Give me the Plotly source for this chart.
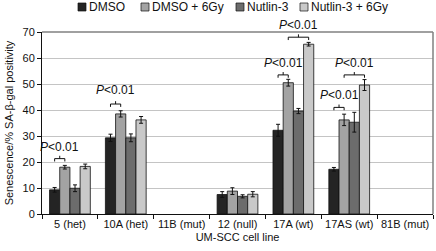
import plotly.graph_objects as go

categories = ["5 (het)", "10A (het)", "11B (mut)", "12 (null)", "17A (wt)", "17AS (wt)", "81B (mut)"]
series_names = ["DMSO", "DMSO + 6Gy", "Nutlin-3", "Nutlin-3 + 6Gy"]
dmso = [9.3, 29.3, 0, 7.5, 32.2, 17.2, 0]
dmso_6gy = [18.0, 38.5, 0, 8.8, 50.5, 36.2, 0]
nutlin = [9.9, 29.3, 0, 6.8, 39.6, 35.3, 0]
nutlin_6gy = [18.3, 36.2, 0, 7.6, 65.3, 49.6, 0]
err_dmso = [0.9, 1.4, 0, 1.1, 2.3, 0.7, 0]
err_dmso_6gy = [0.7, 1.2, 0, 1.3, 1.3, 2.2, 0]
err_nutlin = [1.3, 1.5, 0, 0.6, 1.0, 3.8, 0]
err_nutlin_6gy = [0.9, 1.3, 0, 1.0, 0.7, 2.1, 0]
colors = ["#242424", "#a3a3a3", "#6c6c6c", "#c9c9c9"]

# significance brackets: (group index, from bar, to bar, bracket y, text y)
brackets = [
    (0, 0, 1, 21.3, 25.8),
    (1, 0, 1, 42.3, 47.6),
    (4, 0, 1, 53.5, 58.0),
    (4, 1, 3, 68.0, 72.6),
    (5, 0, 1, 41.0, 45.8),
    (5, 1, 3, 53.5, 58.0),
]
p_label = "<i>P</i>&lt;0.01"

values = [dmso, dmso_6gy, nutlin, nutlin_6gy]
errors = [err_dmso, err_dmso_6gy, err_nutlin, err_nutlin_6gy]

YMAX = 70
BARGAP = 0.27
W = (1 - BARGAP) / 4

fig = go.Figure()
for name, v, e, c in zip(series_names, values, errors, colors):
    # cell lines with no measurement (value 0) draw no bar
    yv = [vv if vv > 0 else None for vv in v]
    fig.add_trace(go.Bar(
        name=name, x=categories, y=yv,
        marker=dict(color=c, line=dict(color="#111111", width=0.8)),
        error_y=dict(type="data", array=e, color="#111111", thickness=1, width=2),
        showlegend=False,
    ))

shapes = []
annotations = []
for g, b0, b1, yb, yt in brackets:
    x0 = g + (b0 - 1.5) * W
    x1 = g + (b1 - 1.5) * W
    xm = (x0 + x1) / 2
    d = 1.1
    path = (f"M {x0},{yb-d} L {x0},{yb} L {x1},{yb} L {x1},{yb-d} "
            f"M {xm},{yb} L {xm},{yb+d}")
    shapes.append(dict(type="path", path=path, xref="x", yref="y",
                       line=dict(color="#111111", width=1)))
    annotations.append(dict(x=xm, y=yt / YMAX, xref="x", yref="paper", text=p_label,
                            xanchor="center", yanchor="middle",
                            showarrow=False, font=dict(size=12, color="#111111")))

# plot frame (top and right)
shapes.append(dict(type="line", xref="paper", yref="paper", x0=0, x1=1, y0=1, y1=1,
                   line=dict(color="#808080", width=1.5)))
shapes.append(dict(type="line", xref="paper", yref="paper", x0=1, x1=1, y0=0, y1=1,
                   line=dict(color="#808080", width=1.5)))

# manual legend
leg_px = [82, 145, 240, 304]
PW = 391.0
for name, c, px in zip(series_names, colors, leg_px):
    xp = (px - 42) / PW
    shapes.append(dict(type="rect", xref="paper", yref="paper", xsizemode="pixel", ysizemode="pixel",
                       xanchor=xp, yanchor=(214 - 7) / 182.0, x0=-4, x1=4, y0=-4, y1=4,
                       fillcolor=c, line=dict(color="#111111", width=0.7)))
    annotations.append(dict(x=xp, y=(214 - 7) / 182.0, xref="paper", yref="paper", xshift=5,
                            text=name, showarrow=False, xanchor="left", yanchor="middle",
                            font=dict(size=12, color="#111111")))

fig.update_layout(
    width=436, height=251,
    margin=dict(l=42, r=3, t=32, b=37),
    paper_bgcolor="white", plot_bgcolor="white",
    barmode="group", bargap=BARGAP, bargroupgap=0,
    hovermode=False,
    font=dict(family="Liberation Sans, Arial, sans-serif", size=11, color="#111111"),
    shapes=shapes, annotations=annotations,
    xaxis=dict(
        type="category", tickson="boundaries", ticks="outside", ticklen=4,
        tickcolor="#111111", showline=True, linecolor="#111111", linewidth=1,
        showgrid=False, tickfont=dict(size=11), tickangle=0, automargin=False,
        title=dict(text="UM-SCC cell line", font=dict(size=11), standoff=4),
        range=[-0.5, 6.5],
    ),
    yaxis=dict(
        range=[0, YMAX], dtick=10, ticks="outside", ticklen=4, tickcolor="#111111",
        showline=True, linecolor="#111111", linewidth=1, automargin=False,
        showgrid=True, gridcolor="#c4c4c4", gridwidth=1, zeroline=False,
        tickfont=dict(size=11),
        title=dict(text="Senescence/% SA-β-gal positivity", font=dict(size=11), standoff=6),
    ),
)

fig.write_html("out.html", config={"displayModeBar": False},
               post_script="document.body.style.margin='0';")
